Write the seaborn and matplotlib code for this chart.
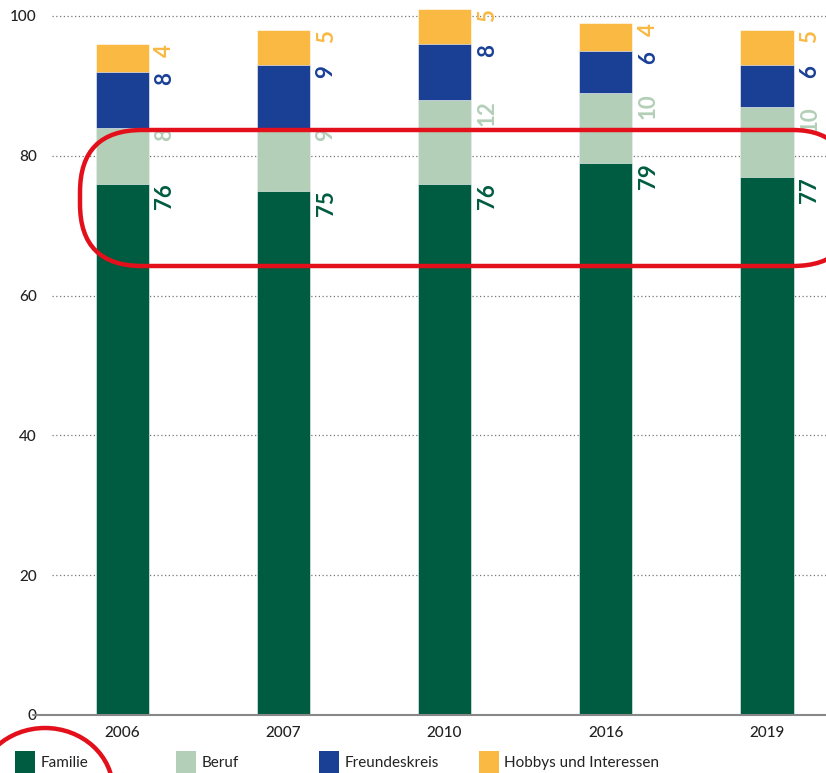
import numpy as np
import pandas as pd
import matplotlib
matplotlib.use('Agg')
import matplotlib.pyplot as plt
import matplotlib.transforms as mtransforms
import seaborn as sns
from matplotlib.patches import Patch, FancyBboxPatch, Arc

# --- Data ---
years = ['2006', '2007', '2010', '2016', '2019']
familie = [76, 75, 76, 79, 77]
beruf = [8, 9, 12, 10, 10]
freundeskreis = [8, 9, 8, 6, 6]
hobbys = [4, 5, 5, 4, 5]

series_names = ['Familie', 'Beruf', 'Freundeskreis', 'Hobbys und Interessen']
colors = ['#005c41', '#b3cfb7', '#1a4096', '#f9b943']

df = pd.DataFrame({'Jahr': years, 'Familie': familie, 'Beruf': beruf,
                   'Freundeskreis': freundeskreis, 'Hobbys und Interessen': hobbys})

# cumulative tops for stacking
cum = df[series_names].cumsum(axis=1)

W, H = 826, 773
sns.set_theme(style='white')
plt.rcParams['font.family'] = ['Lato', 'DejaVu Sans']

fig = plt.figure(figsize=(W / 100, H / 100), dpi=100)
ax = fig.add_axes([52 / W, 58 / H, 1 - 52 / W, 709.5 / H])
# pixel coordinates, origin bottom-left
px = mtransforms.Affine2D().scale(1 / 100) + fig.dpi_scale_trans

# dotted gridlines behind the bars
for yv in [20, 40, 60, 80, 100]:
    ax.axhline(yv, color='#777777', lw=0.9, ls=(0, (1, 2)), zorder=0)

# seaborn stacked bars: draw the tallest (cumulative) layer first
for name, col in zip(reversed(series_names), reversed(colors)):
    sns.barplot(x=df['Jahr'], y=cum[name], color=col, width=0.33,
                saturation=1, ax=ax, zorder=2, edgecolor='white', linewidth=0.4)

# value labels, rotated, to the right of each bar at the top of the segment
for i in range(len(years)):
    for name, col in zip(series_names, colors):
        ax.text(i + 0.2, cum[name].iloc[i], str(df[name].iloc[i]),
                rotation=90, ha='left', va='top', color=col,
                fontsize=16, fontweight='bold', zorder=3)

ax.set_xlim(-0.435, 4.366)
ax.set_ylim(0, 101.5)
ax.set_yticks([0, 20, 40, 60, 80, 100])
ax.set_xlabel('')
ax.set_ylabel('')
ax.tick_params(axis='both', length=0, labelsize=11, colors='#222222')
ax.tick_params(axis='y', pad=11)
ax.tick_params(axis='x', pad=8)
for lbl in ax.get_xticklabels() + ax.get_yticklabels():
    lbl.set_fontweight('medium')
for s in ax.spines.values():
    s.set_visible(False)
# baseline
ax.axhline(0, xmin=-0.025, xmax=1, color='#888888', lw=1.5, zorder=4, clip_on=False)

# legend along the bottom, one entry per slot
legend_x = [15, 176, 319, 479]
for n, c, lx in zip(series_names, colors, legend_x):
    leg = fig.legend(handles=[Patch(facecolor=c, edgecolor='none', label=n)],
                     loc='center left', bbox_to_anchor=(lx, 11), bbox_transform=px,
                     frameon=False, fontsize=11, handlelength=1.3, handleheight=1.8,
                     handletextpad=0.35, borderpad=0, borderaxespad=0)
    for t in leg.get_texts():
        t.set_color('#222222')

# red hand-drawn markings from the reference
loop = FancyBboxPatch((80, H - 266), 775, 136,
                      boxstyle='round,pad=0,rounding_size=62',
                      transform=px, fill=False, ec='#e3101c', lw=3.2, zorder=10)
fig.add_artist(loop)
arc = Arc((45, H - 790), 136, 124, theta1=0, theta2=180,
          transform=px, color='#e3101c', lw=3.2, zorder=10)
fig.add_artist(arc)

plt.savefig('out.png', dpi=100)
